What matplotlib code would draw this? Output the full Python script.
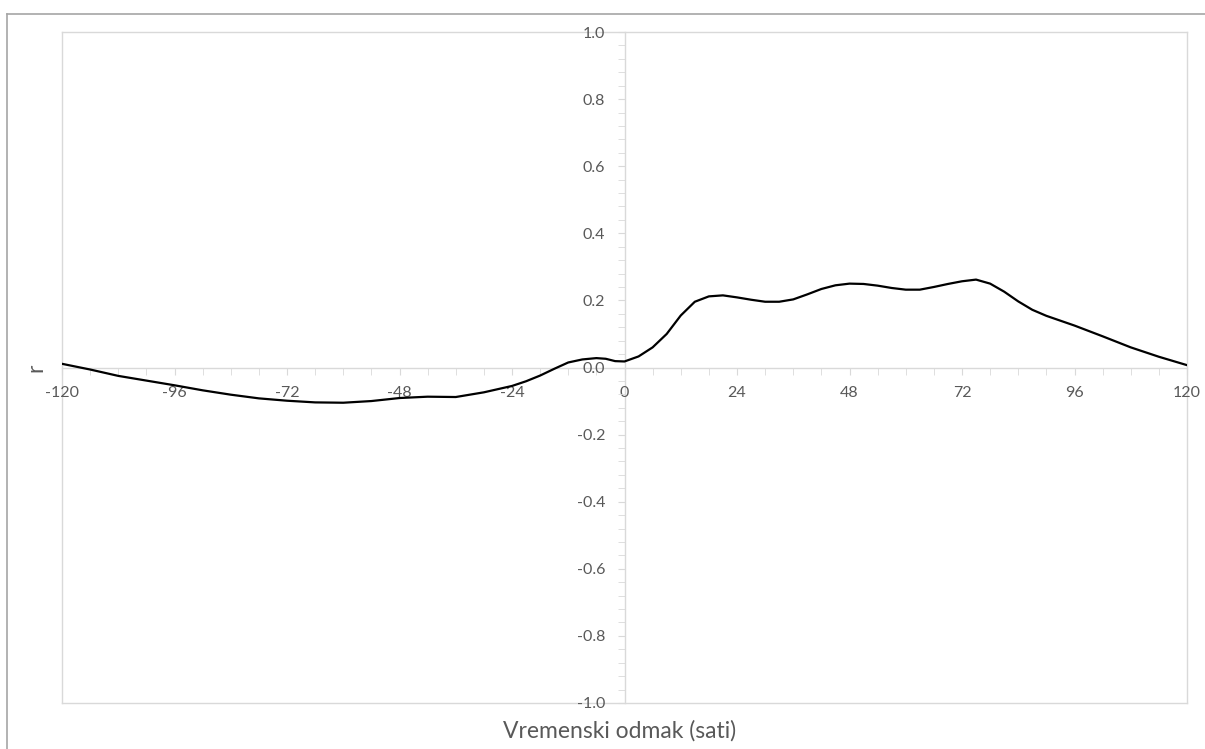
import matplotlib
matplotlib.use("Agg")
import matplotlib.pyplot as plt
from matplotlib.lines import Line2D
from matplotlib.ticker import MultipleLocator

plt.rcParams['font.family'] = ['Lato', 'DejaVu Sans']
plt.rcParams['axes.unicode_minus'] = False

# cross-correlation by time lag (hours)
lag_hours = [-120, -114, -108, -102, -96, -90, -84, -78, -72, -66, -60, -54,
             -48, -42, -36, -30, -24, -21, -18, -15, -12, -9, -6, -4, -2, 0,
             3, 6, 9, 12, 15, 18, 21, 24, 27, 30, 33, 36, 39, 42, 45, 48, 51,
             54, 57, 60, 63, 66, 69, 72, 75, 78, 81, 84, 87, 90, 96, 102, 108,
             114, 120]
r_values = [0.011, -0.006, -0.025, -0.039, -0.053, -0.068, -0.081, -0.092,
            -0.099, -0.104, -0.105, -0.100, -0.091, -0.087, -0.088, -0.074,
            -0.055, -0.041, -0.024, -0.004, 0.015, 0.024, 0.028, 0.026, 0.019,
            0.018, 0.033, 0.060, 0.100, 0.155, 0.196, 0.212, 0.215, 0.209,
            0.202, 0.196, 0.196, 0.203, 0.218, 0.234, 0.245, 0.250, 0.249,
            0.244, 0.237, 0.232, 0.232, 0.240, 0.249, 0.257, 0.262, 0.250,
            0.226, 0.197, 0.172, 0.154, 0.125, 0.093, 0.060, 0.032, 0.007]

x_ticks = [-120, -96, -72, -48, -24, 0, 24, 48, 72, 96, 120]
y_ticks = [-1.0, -0.8, -0.6, -0.4, -0.2, 0.0, 0.2, 0.4, 0.6, 0.8, 1.0]

grey = '#595959'
axis_grey = '#d9d9d9'

fig = plt.figure(figsize=(12.05, 7.49), dpi=100)
ax = fig.add_axes([62 / 1205, 1 - 703 / 749, 1125 / 1205, 671 / 749])

ax.plot(lag_hours, r_values, color='black', lw=1.6,
        solid_joinstyle='round', solid_capstyle='round', zorder=3)

ax.set_xlim(-120, 120)
ax.set_ylim(-1.0, 1.0)

# axes cross at the origin
ax.spines['left'].set_position(('data', 0))
ax.spines['bottom'].set_position(('data', 0))
for side in ['left', 'bottom', 'top', 'right']:
    ax.spines[side].set_color(axis_grey)
    ax.spines[side].set_linewidth(1.0)
    ax.spines[side].set_zorder(0.5)

# plot-area frame on the left and bottom edges
for xs, ys in [([0, 0], [0, 1]), ([0, 1], [0, 0])]:
    ax.add_line(Line2D(xs, ys, transform=ax.transAxes, color=axis_grey,
                       lw=1.0, clip_on=False, zorder=0.5))

ax.set_xticks(x_ticks)
ax.set_xticklabels([f"{t:d}" for t in x_ticks])
ax.xaxis.set_minor_locator(MultipleLocator(6))
ax.set_yticks(y_ticks)
ax.set_yticklabels([f"{t:.1f}" for t in y_ticks])
ax.yaxis.set_minor_locator(MultipleLocator(0.04))

ax.tick_params(axis='both', which='both', direction='out', color=axis_grey,
               labelcolor=grey, labelsize=11.5)
ax.tick_params(axis='x', which='major', length=5, pad=8)
ax.tick_params(axis='x', which='minor', length=5)
ax.tick_params(axis='y', which='major', length=5, pad=9)
ax.tick_params(axis='y', which='minor', length=5)
for lbl in ax.get_yticklabels() + ax.get_xticklabels():
    lbl.set_zorder(5)

fig.text(620 / 1205, 1 - 731 / 749, 'Vremenski odmak (sati)', color=grey,
         fontsize=16.5, ha='center', va='center')
fig.text(36 / 1205, 1 - 368 / 749, 'r', color=grey, fontsize=16.5,
         rotation=90, ha='center', va='center')

# outer border on top and left
fig.add_artist(Line2D([7 / 1205, 1], [1 - 14 / 749, 1 - 14 / 749],
                      transform=fig.transFigure, color='#a6a6a6', lw=1.2))
fig.add_artist(Line2D([7 / 1205, 7 / 1205], [0, 1 - 14 / 749],
                      transform=fig.transFigure, color='#a6a6a6', lw=1.2))

fig.savefig('out.png', dpi=100)
